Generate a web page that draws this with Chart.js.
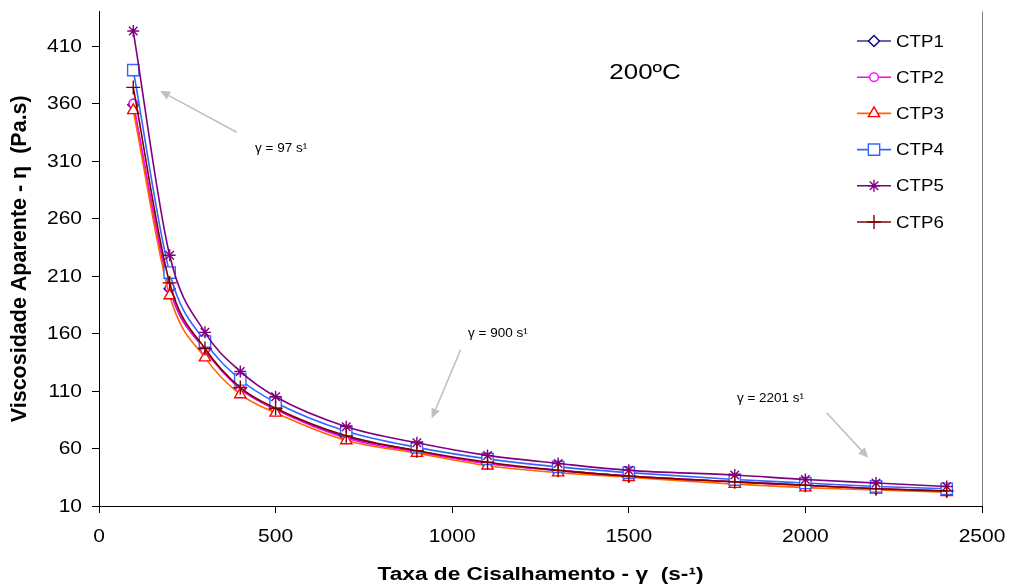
<!DOCTYPE html>
<html>
<head>
<meta charset="utf-8">
<script src="https://cdn.jsdelivr.net/npm/chart.js@4.4.1/dist/chart.umd.min.js"></script>
<style>
html,body{margin:0;padding:0;background:#fff;}
#wrap{width:1013px;height:588px;position:relative;}
</style>
</head>
<body>
<div id="wrap"><canvas id="c" width="1013" height="588"></canvas></div>
<script>
// ---- data ----
const shearRates = [97, 200, 300, 400, 500, 700, 900, 1100, 1300, 1500, 1800, 2000, 2200, 2400];
const seriesNames = ['CTP1', 'CTP2', 'CTP3', 'CTP4', 'CTP5', 'CTP6'];
const ctp1 = [359, 199, 146, 112, 94, 70, 58, 47, 41, 36, 31, 28, 25, 23];
const ctp2 = [360, 200, 146, 112, 94, 69, 57, 47, 41, 36, 31, 28, 25, 23];
const ctp3 = [354, 193, 139, 107, 91, 67, 56, 45, 39, 35, 29, 26, 24, 22];
const ctp4 = [389, 213, 153, 120, 100, 75, 61, 51, 44, 39, 33, 30, 27, 25];
const ctp5 = [423, 228, 161, 127, 105, 79, 65, 54, 47, 41, 37, 33, 30, 27];
const ctp6 = [374, 204, 147, 113, 95, 71, 58, 48, 41, 36, 31, 28, 25, 23];
const xTicks = [0, 500, 1000, 1500, 2000, 2500];
const yTicks = [10, 60, 110, 160, 210, 260, 310, 360, 410];
const xTitle = 'Taxa de Cisalhamento - γ  (s-¹)';
const yTitle = 'Viscosidade Aparente - η  (Pa.s)';
const annotations = [
  {text: 'γ = 97 s¹', tx: 442, ty: 321, ax1: 390, ay1: 335, ax2: 173, ay2: 371},
  {text: 'γ = 900 s¹', tx: 1045, ty: 160, ax1: 1024, ay1: 146, ax2: 942, ay2: 86},
  {text: 'γ = 2201 s¹', tx: 1806, ty: 104, ax1: 2060, ay1: 91, ax2: 2178, ay2: 52}
];
const tempLabel = {text: '200ºC', x: 1546, y: 387};

const seriesValues = [ctp1, ctp2, ctp3, ctp4, ctp5, ctp6];
const styles = [
  {line: '#333399', mark: '#000080', shape: 'rectRot', r: 5.5, fill: '#fff'},
  {line: '#FF00FF', mark: '#FF00FF', shape: 'circle', r: 4.3, fill: '#fff'},
  {line: '#FF6600', mark: '#FF0000', shape: 'triangle', r: 6.5, fill: '#fff'},
  {line: '#3366FF', mark: '#3366FF', shape: 'rect', r: 8, fill: '#fff'},
  {line: '#800080', mark: '#800080', shape: 'star', r: 6, fill: '#800080'},
  {line: '#800000', mark: '#800000', shape: 'cross', r: 7, fill: '#800000'}
];

const FONT = '"Liberation Sans", Arial, sans-serif';

const datasets = seriesNames.map((name, i) => ({
  label: name,
  data: shearRates.map((x, j) => ({x: x, y: seriesValues[i][j]})),
  order: seriesNames.length - i,
  borderColor: styles[i].line,
  borderWidth: 1.6,
  pointStyle: styles[i].shape,
  pointRadius: styles[i].r,
  pointHoverRadius: styles[i].r,
  pointBorderColor: styles[i].mark,
  pointBackgroundColor: styles[i].fill,
  pointBorderWidth: 1.4,
  cubicInterpolationMode: 'monotone',
  fill: false
}));

function drawMarker(ctx, st, x, y) {
  ctx.save();
  ctx.strokeStyle = st.mark;
  ctx.fillStyle = st.fill;
  ctx.lineWidth = 1.4;
  if (Chart.helpers && Chart.helpers.drawPoint) {
    Chart.helpers.drawPoint(ctx, {pointStyle: st.shape, radius: st.r, borderWidth: 1.4, rotation: 0}, x, y);
  }
  ctx.restore();
}

function text(ctx, str, x, y, font, sx, align, rot) {
  ctx.save();
  ctx.translate(x, y);
  if (rot) ctx.rotate(rot);
  ctx.scale(sx, 1);
  ctx.font = font;
  ctx.fillStyle = '#000';
  ctx.textAlign = align;
  ctx.textBaseline = 'middle';
  ctx.fillText(str, 0, 0);
  ctx.restore();
}

const overlay = {
  id: 'overlay',
  afterDraw(chart) {
    const ctx = chart.ctx;
    const xs = chart.scales.x, ys = chart.scales.y;
    const area = chart.chartArea;
    ctx.save();
    // right border
    ctx.strokeStyle = '#808080';
    ctx.lineWidth = 1;
    ctx.beginPath();
    ctx.moveTo(Math.round(area.right) + 0.5, area.top);
    ctx.lineTo(Math.round(area.right) + 0.5, area.bottom);
    ctx.stroke();

    // tick labels
    yTicks.forEach(v => text(ctx, String(v), area.left - 17, ys.getPixelForValue(v) + 1, '17.5px ' + FONT, 1.2, 'right'));
    xTicks.forEach(v => text(ctx, String(v), xs.getPixelForValue(v), area.bottom + 31, '17.5px ' + FONT, 1.2, 'center'));

    // axis titles
    text(ctx, xTitle, (area.left + area.right) / 2, 575, 'bold 18px ' + FONT, 1.26, 'center');
    text(ctx, yTitle, 20, (area.top + area.bottom) / 2, 'bold 21.5px ' + FONT, 1, 'center', -Math.PI / 2);

    // temperature label
    text(ctx, tempLabel.text, xs.getPixelForValue(tempLabel.x), ys.getPixelForValue(tempLabel.y), '22px ' + FONT, 1.18, 'center');

    // annotations
    annotations.forEach(a => {
      text(ctx, a.text, xs.getPixelForValue(a.tx), ys.getPixelForValue(a.ty), '13.5px ' + FONT, 1, 'left');
      const x1 = xs.getPixelForValue(a.ax1), y1 = ys.getPixelForValue(a.ay1);
      const x2 = xs.getPixelForValue(a.ax2), y2 = ys.getPixelForValue(a.ay2);
      ctx.strokeStyle = '#C0C0C0';
      ctx.fillStyle = '#C0C0C0';
      ctx.lineWidth = 1.5;
      const ang = Math.atan2(y2 - y1, x2 - x1);
      const hl = 10, hw = 4.5;
      const bx = x2 - Math.cos(ang) * hl, by = y2 - Math.sin(ang) * hl;
      ctx.beginPath();
      ctx.moveTo(x1, y1);
      ctx.lineTo(bx, by);
      ctx.stroke();
      ctx.beginPath();
      ctx.moveTo(x2, y2);
      ctx.lineTo(bx + Math.sin(ang) * hw, by - Math.cos(ang) * hw);
      ctx.lineTo(bx - Math.sin(ang) * hw, by + Math.cos(ang) * hw);
      ctx.closePath();
      ctx.fill();
    });

    // legend
    const lx1 = 857, lx2 = 891, ltx = 896, ly0 = 41, lstep = 36.2;
    seriesNames.forEach((name, i) => {
      const y = ly0 + i * lstep;
      ctx.strokeStyle = styles[i].line;
      ctx.lineWidth = 1.6;
      ctx.beginPath();
      ctx.moveTo(lx1, y);
      ctx.lineTo(lx2, y);
      ctx.stroke();
      drawMarker(ctx, styles[i], (lx1 + lx2) / 2, y);
      text(ctx, name, ltx, y + 1, '17px ' + FONT, 1.1, 'left');
    });
    ctx.restore();
  }
};

new Chart(document.getElementById('c'), {
  type: 'line',
  data: {datasets: datasets},
  options: {
    responsive: false,
    animation: false,
    events: [],
    layout: {padding: {top: 11.5, right: 31, left: 0, bottom: 0}},
    plugins: {legend: {display: false}, tooltip: {enabled: false}, title: {display: false}},
    scales: {
      x: {
        type: 'linear',
        min: 0, max: 2500,
        afterBuildTicks: s => { s.ticks = xTicks.map(v => ({value: v})); },
        afterFit: s => { s.height = 82; s.paddingLeft = 0; s.paddingRight = 0; },
        grid: {display: true, drawOnChartArea: false, drawTicks: true, tickLength: 7, color: '#000'},
        border: {display: true, color: '#000', width: 1},
        ticks: {display: false},
        title: {display: false}
      },
      y: {
        type: 'linear',
        min: 10, max: 440,
        afterBuildTicks: s => { s.ticks = yTicks.map(v => ({value: v})); },
        afterFit: s => { s.width = 99; s.paddingTop = 0; s.paddingBottom = 0; },
        grid: {display: true, drawOnChartArea: false, drawTicks: true, tickLength: 7, color: '#000'},
        border: {display: true, color: '#000', width: 1},
        ticks: {display: false},
        title: {display: false}
      }
    }
  },
  plugins: [overlay]
});
</script>
</body>
</html>
